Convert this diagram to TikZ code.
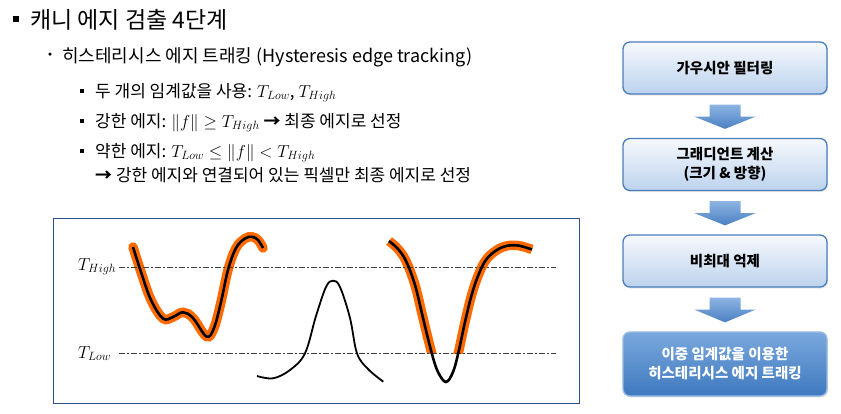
\documentclass[tikz,border=0pt]{standalone}
\usepackage{fontspec}
\setmainfont{Noto Sans CJK KR}
\usetikzlibrary{calc,shadows}
\definecolor{edgeorange}{HTML}{FF6A00}
\definecolor{framecol}{HTML}{2F4F8F}
\definecolor{boxline}{HTML}{4A7EBB}
\definecolor{boxtop}{HTML}{F6F9FD}
\definecolor{boxbot}{HTML}{BCD2EE}
\definecolor{darktop}{HTML}{7AA8DD}
\definecolor{darkbot}{HTML}{3E79BF}
\definecolor{arrtop}{HTML}{8DB4E3}
\definecolor{arrbot}{HTML}{4A80C2}
\definecolor{dashcol}{HTML}{404040}
\newcommand\flowarrow[2]{%
  \path[arrowfill] ($(#1.south)+(-15.5,10)$) -- ++(31,0) -- ++(0,12) -- ++(15,0)
    -- ($(#2.north)+(0,-9)$) -- ($(#1.south)+(-30.5,22)$) -- ++(15,0) -- cycle;}
\begin{document}
\begin{tikzpicture}[x=1pt,y=-1pt,
  stepbox/.style={draw=boxline, line width=1.3pt, rounded corners=7pt,
    top color=boxtop, bottom color=boxbot, minimum width=204pt, minimum height=52pt,
    align=center, font=\fontsize{14.5}{19}\selectfont\bfseries, inner sep=2pt,
    drop shadow={opacity=0.2, shadow xshift=1pt, shadow yshift=-1.5pt}},
  finalbox/.style={stepbox, draw=darktop!80!white, top color=darktop, bottom color=darkbot,
    text=white, minimum height=64pt},
  arrowfill/.style={top color=arrtop, bottom color=arrbot, draw=none},
  txt/.style={anchor=base west, inner sep=0pt},
  subtxt/.style={txt, font=\fontsize{17}{17}\selectfont},
  thr/.style={dashcol, line width=0.9pt, dash pattern=on 6pt off 2pt on 2pt off 2pt},
  hl/.style={edgeorange, line width=9.5pt, line cap=round},
  ink/.style={black, line width=2.6pt},
  thinink/.style={black, line width=1.8pt},
  sqbullet/.style={fill=black, inner sep=0pt, minimum size=#1, draw=none}
]
\useasboundingbox (0,0) rectangle (841,413);

% ---------- text ----------
\node[sqbullet=5.5pt] (bt) at (16,19) {};
\node[txt, font=\fontsize{23}{23}\selectfont] (title) at (30,28) {캐니 에지 검출 4단계};
\node[circle, fill=black, inner sep=0pt, minimum size=3.5pt] (bd) at (50,54) {};
\node[txt, font=\fontsize{18}{18}\selectfont] (l1) at (62,62) {히스테리시스 에지 트래킹 (Hysteresis edge tracking)};
\node[sqbullet=4pt] (s1) at (82,91) {};
\node[subtxt] (t1) at (95,97) {두 개의 임계값을 사용: $T_{Low}$, $T_{High}$};
\node[sqbullet=4pt] (s2) at (82,121) {};
\node[subtxt] (t2) at (95,127) {강한 에지: $\|f\| \geq T_{High}$ {\bfseries →} 최종 에지로 선정};
\node[sqbullet=4pt] (s3) at (82,151) {};
\node[subtxt] (t3) at (95,157) {약한 에지: $T_{Low} \leq \|f\| < T_{High}$};
\node[subtxt] (t4) at (95,181) {{\bfseries →} 강한 에지와 연결되어 있는 픽셀만 최종 에지로 선정};

% ---------- plot ----------
\draw[framecol, line width=1pt] (53,218) rectangle (579,403);
\node[txt, font=\fontsize{17}{17}\selectfont] (lh) at (78,270) {$T_{High}$};
\node[txt, font=\fontsize{17}{17}\selectfont] (ll) at (78,358) {$T_{Low}$};
\coordinate (h0) at (119,267); \coordinate (h1) at (556,267);
\coordinate (w0) at (119,353); \coordinate (w1) at (556,353);

\def\curveA{plot[smooth, tension=0.6] coordinates {(133,247) (141,272) (151,300) (163,318.5) (173,317) (183,312.3) (193,318) (206.5,336.5) (214,328) (221,302) (228,270) (236,248) (245,238.5) (252,236.8) (258,240) (263,248)}}
\def\curveB{plot[smooth, tension=0.6] coordinates {(257,376) (273,378.3) (290,370) (305,353.3) (316,316) (326,287) (333,280.7) (340,287) (350,318) (357,353.3) (368,369) (383.3,381.7)}}
\def\curveC{plot[smooth, tension=0.6] coordinates {(389,241) (398,249) (406,261) (415,285) (423,318) (431.7,353) (438,372) (446,382) (453,372) (458.3,353) (465,322) (471.7,294.7) (478,276) (485,261.3) (494,252) (505,246.3) (518,245.5) (532,249.5)}}

\draw[hl] \curveA;
\begin{scope}
  \clip (380,225) rectangle (545,353);
  \draw[hl, line cap=butt] \curveC;
\end{scope}
\draw[thr] (h0) -- (h1);
\draw[thr] (w0) -- (w1);
\draw[ink] \curveA;
\draw[thinink] \curveB;
\draw[ink] \curveC;

% ---------- flowchart ----------
\node[stepbox] (b1) at (725,68) {가우시안 필터링};
\node[stepbox] (b2) at (725,164.5) {그래디언트 계산\\(크기 \& 방향)};
\node[stepbox] (b3) at (725,261) {비최대 억제};
\node[finalbox] (b4) at (725,364) {이중 임계값을 이용한\\히스테리시스 에지 트래킹};
\flowarrow{b1}{b2}
\flowarrow{b2}{b3}
\flowarrow{b3}{b4}
\end{tikzpicture}
\end{document}
